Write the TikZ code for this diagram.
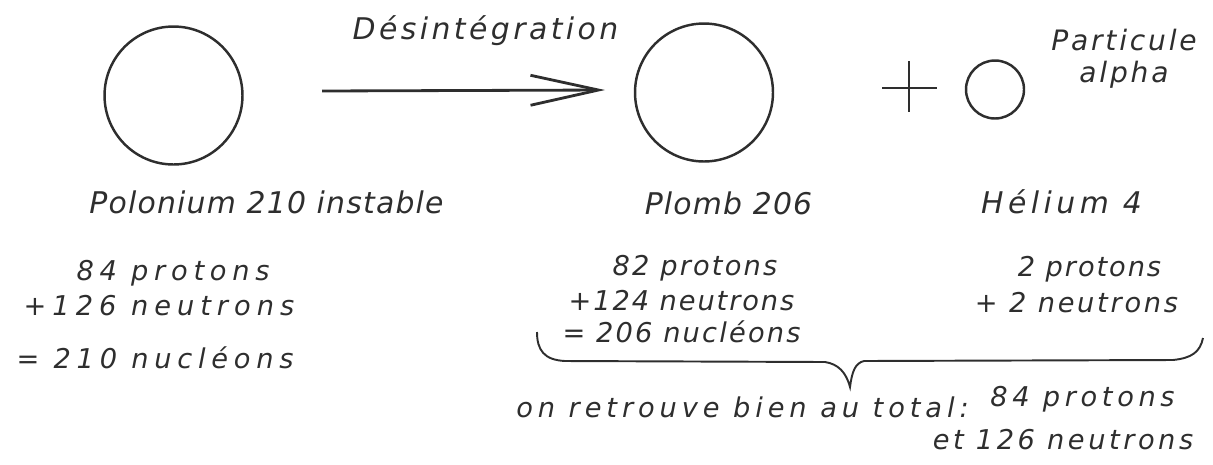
\documentclass[tikz,border=0pt]{standalone}
\usepackage{fontspec}
\setmainfont{DejaVu Sans}
\usetikzlibrary{arrows.meta}
\definecolor{ink}{HTML}{2E2E2E}
\tikzset{
  hand/.style={text=ink, font=\itshape\fontsize{#1}{#1}\selectfont, anchor=base, inner sep=0pt},
  hand/.default=15.5,
  ls/.style={execute at begin node={\addfontfeature{LetterSpace=#1}}},
  atom/.style={draw=ink, circle, line width=1.4pt, inner sep=0pt},
}
\begin{document}
\begin{tikzpicture}[x=0.02cm, y=-0.02cm]
    \useasboundingbox (0,0) rectangle (1213,464);
    \node[atom, minimum size=2.76cm] (po) at (173.5,95.5) {};
    \node[atom, minimum size=2.76cm] (pb) at (704,92.5) {};
    \node[atom, minimum size=1.16cm] (he) at (995,89.5) {};
    \coordinate (arrS) at (322,91);
    \coordinate (arrE) at (605,90);
    \draw[ink, line width=1.6pt, -{Straight Barb[length=1.36cm, width=0.6cm, line width=1.6pt]}] (arrS) -- (arrE);
    \node[hand=17, ls=11.5] (desint) at (485.5,39) {Désintégration};
    \draw[ink, line width=1.4pt] (882,88) -- (937,88) (909,61) -- (909,112);
    \node[hand=16, ls=10, align=center] (part) at (1124,82) {Particule\\[2pt]alpha};
    \node[hand=17, ls=4] (npo) at (266.5,213) {Polonium 210 instable};
    \node[hand=17, ls=4] (npb) at (728.5,214) {Plomb 206};
    \node[hand=17, ls=15] (nhe) at (1061.5,213) {Hélium 4};
    \node[hand, ls=21] (po1) at (173,280) {84 protons};
    \node[hand, ls=22] (po2) at (159,315) {+126 neutrons};
    \node[hand, ls=21] (po3) at (155,368) {= 210 nucléons};
    \node[hand, ls=8] (pb1) at (695,275) {82 protons};
    \node[hand, ls=7] (pb2) at (681.5,310) {+124 neutrons};
    \node[hand, ls=8] (pb3) at (681.5,342) {= 206 nucléons};
    \node[hand, ls=7] (he1) at (1089.5,276) {2 protons};
    \node[hand, ls=10] (he2) at (1076.5,312) {+ 2 neutrons};
    \draw[ink, line width=1.1pt] (537,332) .. controls (537,350) and (544,360) .. (565,361) -- (825,362)
        .. controls (838,364) and (846,372) .. (850,387) .. controls (852,372) and (855,363) .. (864,361)
        -- (1173,360) .. controls (1192,358) and (1200,352) .. (1203,338);
    \node[hand, ls=18] (tot) at (742.5,417) {on retrouve bien au total:};
    \node[hand, ls=17] (tot1) at (1082.5,406) {84 protons};
    \node[hand, ls=13] (tot2) at (1063,449) {et 126 neutrons};
\end{tikzpicture}
\end{document}
